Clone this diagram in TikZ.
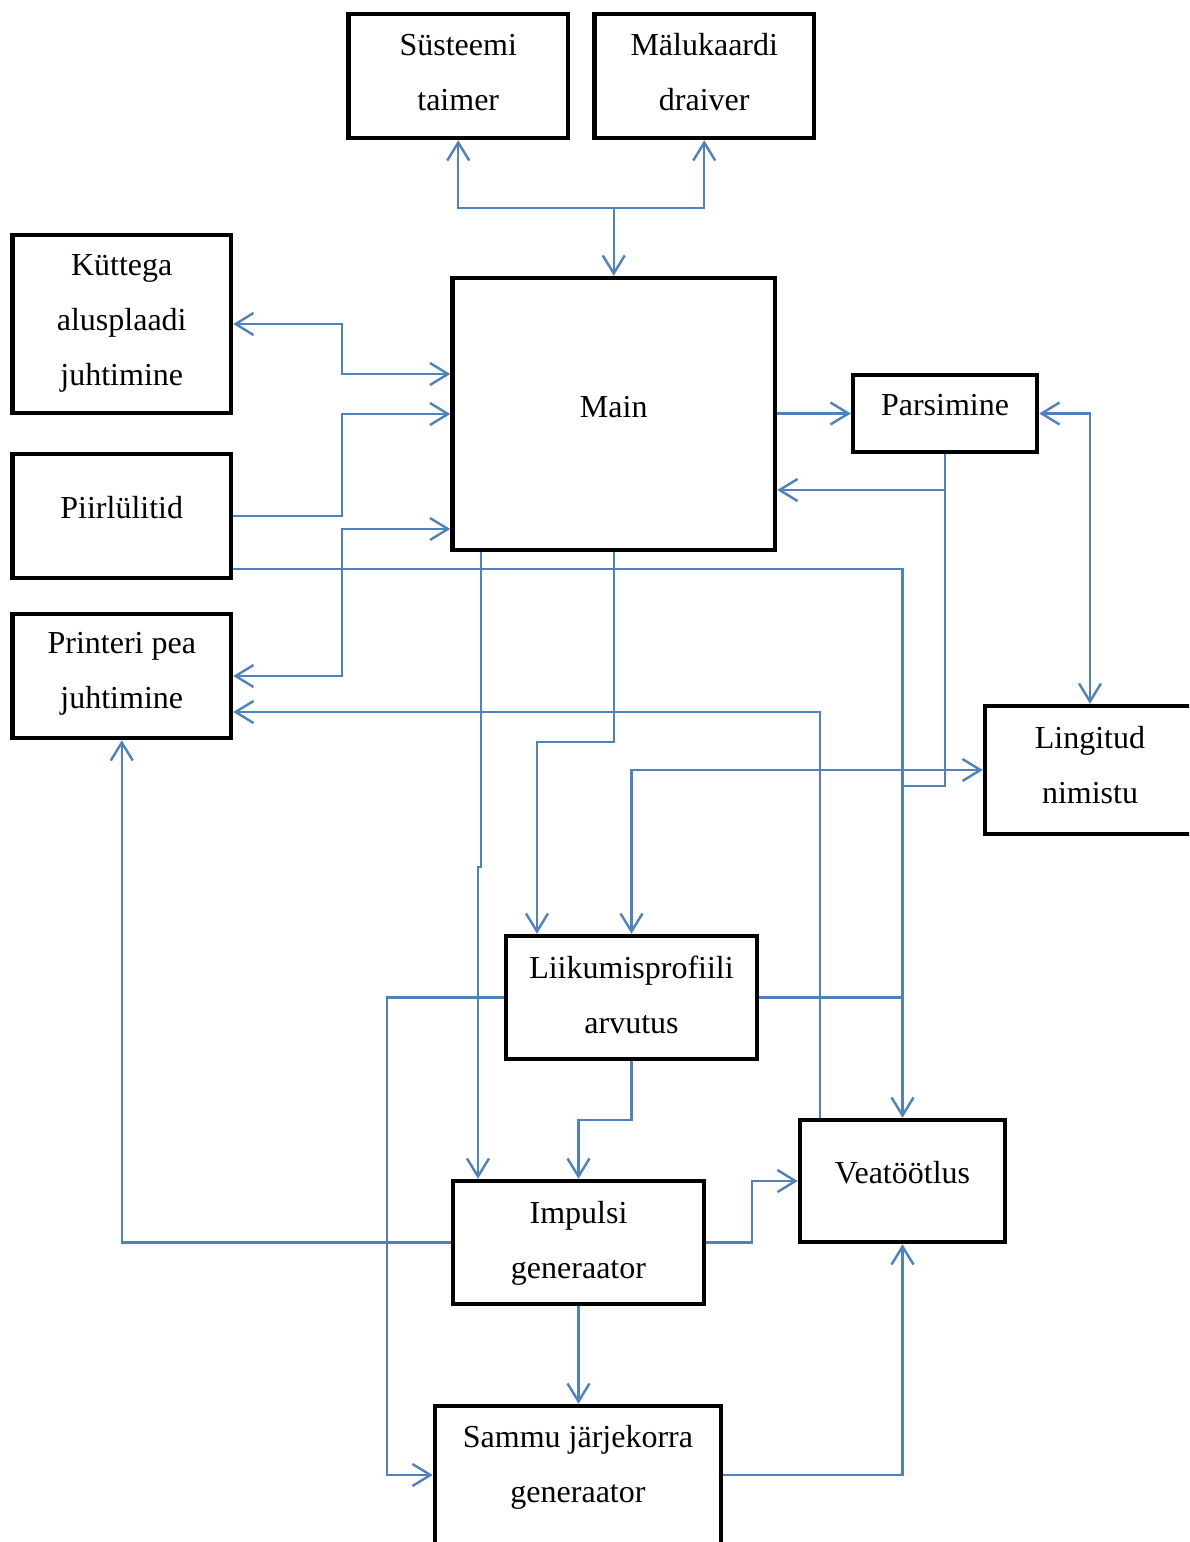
\documentclass[tikz,border=0pt]{standalone}
\usepackage{fontspec}
\setmainfont{Liberation Serif}
\usetikzlibrary{arrows.meta}
\definecolor{linkblue}{HTML}{4F81BD}
% several centred lines whose baseline is the first line
\newcommand{\boxlines}[1]{\begin{tabular}[t]{@{}c@{}}#1\end{tabular}}
\begin{document}
\begin{tikzpicture}[x=1pt,y=-1pt,
  block/.style={draw=black, line width=4.5pt, rectangle, inner sep=0pt},
  caption/.style={anchor=base, inner sep=0pt, font=\fontsize{32pt}{55pt}\selectfont},
  link/.style={draw=linkblue, line width=2.4pt},
  flow/.style={link, -{Straight Barb[length=18pt,width=22pt]}},
  both/.style={link, {Straight Barb[length=18pt,width=22pt]}-{Straight Barb[length=18pt,width=22pt]}}]
\useasboundingbox (0,0) rectangle (1189,1542);
\clip (0,0) rectangle (1189,1542);
\fill[white] (0,0) rectangle (1189,1542);

% blocks
\node[block, minimum width=219.5pt, minimum height=124pt] (sys)   at (458.25,76) {};
\node[block, minimum width=219.5pt, minimum height=124pt] (mal)   at (704.25,76) {};
\node[block, minimum width=218.5pt, minimum height=178pt] (kut)   at (121.75,324) {};
\node[block, minimum width=218.5pt, minimum height=124pt] (piir)  at (121.75,516) {};
\node[block, minimum width=218.5pt, minimum height=124pt] (print) at (121.75,676) {};
\node[block, minimum width=322.5pt, minimum height=272pt] (main)  at (613.75,414) {};
\node[block, minimum width=184pt,   minimum height=77pt]  (par)   at (945,413.5) {};
\node[block, minimum width=210pt,   minimum height=128pt] (lin)   at (1090,770) {};
\node[block, minimum width=251pt,   minimum height=123pt] (liik)  at (631.5,997.5) {};
\node[block, minimum width=251pt,   minimum height=123pt] (imp)   at (578.5,1242.5) {};
\node[block, minimum width=205pt,   minimum height=122pt] (vea)   at (902.5,1181) {};
\node[block, minimum width=286pt,   minimum height=174pt] (sam)   at (578,1493) {};

% captions
\node[caption] (sysT)   at (458.25,55)  {\boxlines{Süsteemi\\taimer}};
\node[caption] (malT)   at (704.25,55)  {\boxlines{Mälukaardi\\draiver}};
\node[caption] (kutT)   at (121.75,275) {\boxlines{Küttega\\alusplaadi\\juhtimine}};
\node[caption] (piirT)  at (121.75,518) {Piirlülitid};
\node[caption] (printT) at (121.75,653) {\boxlines{Printeri pea\\juhtimine}};
\node[caption] (mainT)  at (613.75,417) {Main};
\node[caption] (parT)   at (945,415)    {Parsimine};
\node[caption] (linT)   at (1090,748)   {\boxlines{Lingitud\\nimistu}};
\node[caption] (liikT)  at (631.5,978)  {\boxlines{Liikumisprofiili\\arvutus}};
\node[caption] (impT)   at (578.5,1223) {\boxlines{Impulsi\\generaator}};
\node[caption] (veaT)   at (902.5,1183) {Veatöötlus};
\node[caption] (samT)   at (578,1447)   {\boxlines{Sammu järjekorra\\generaator}};

% timer and card driver
\coordinate (jt) at (613.75,208);
\draw[both] (sys.south) |- (jt) -| (mal.south);
\draw[flow] (jt) -- (main.north);

% left side blocks
\draw[both] (kut.east) -- (342,324) -- (342,374) -- (main.west |- 0,374);
\draw[flow] (piir.east) -| (342,414) -- (main.west |- 0,414);
\draw[both] (print.east) -| (342,529) -- (main.west |- 0,529);
\draw[flow] (piir.east |- 0,569) -| (vea.north);
\draw[flow] (vea.north -| 820,0) |- (print.east |- 0,712);

% parser and linked list
\draw[flow] (main.east |- par.west) -- (par.west);
\draw[both] (par.east) -| (lin.north);
\draw[flow] (par.south |- 0,490) -- (main.east |- 0,490);
\draw[link] (par.south) |- (903,786);
\draw[both] (liik.north) |- (lin.west);

% main to motion profile and pulse generator
\draw[flow] (main.south) |- (537,742) -- (537,742 |- liik.north);
\draw[flow] (main.south -| 481,0) -- (481,867) -- (478,867) -- (478,867 |- imp.north);

% motion profile
\draw[flow] (liik.west) -| (387,1475) -- (sam.west |- 0,1475);
\draw[link] (liik.east) -- (903,997.5);
\draw[flow] (liik.south) |- (578.5,1120) -- (imp.north);

% pulse generator
\draw[flow] (imp.east) -| (752,1181) -- (vea.west);
\draw[flow] (imp.west) -| (print.south);
\draw[flow] (imp.south) -- (imp.south |- sam.north);

% step sequence generator
\draw[flow] (sam.east |- 0,1475) -| (vea.south);
\end{tikzpicture}
\end{document}
